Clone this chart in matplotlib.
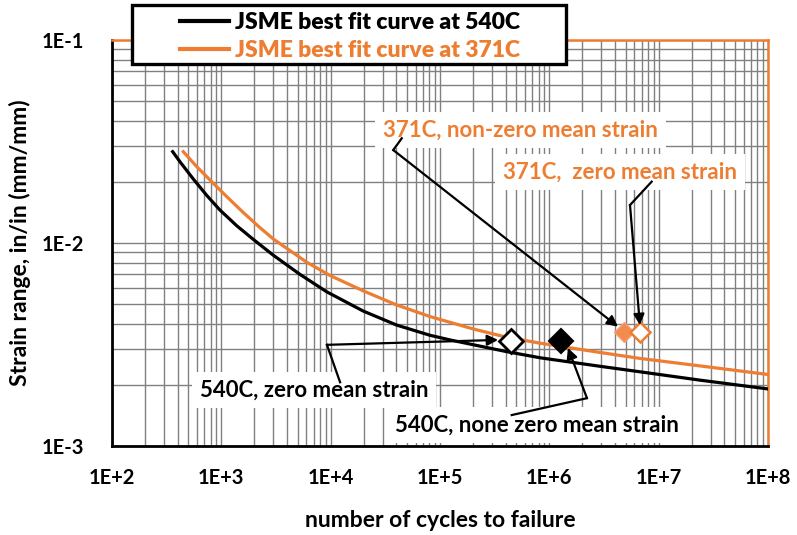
import numpy as np
import matplotlib
matplotlib.use("Agg")
import matplotlib.pyplot as plt
from matplotlib.ticker import FixedLocator, LogLocator, FuncFormatter, NullFormatter
from matplotlib.patches import Rectangle

plt.rcParams['font.family'] = ['Lato', 'DejaVu Sans']

BLACK = '#000000'
ORANGE = '#ED7D31'

# JSME best fit curves (cycles, strain range)
n_540 = [359, 419, 555, 734, 973, 1384, 1960, 2985, 5250, 9200, 19860, 40200, 81100,
         123600, 4.02e5, 822000, 2.9e6, 6.74e6, 2.39e7, 1e8]
e_540 = [0.02818, 0.02512, 0.02065, 0.01718, 0.01452, 0.01216, 0.01042, 0.00871, 0.00700,
         0.00575, 0.00462, 0.00394, 0.00351, 0.00333, 0.00292, 0.00272, 0.00247, 0.00232,
         0.00211, 0.00191]
n_371 = [449, 596, 845, 1119, 1589, 2260, 2985, 6040, 9860, 19860, 40200, 81100, 201800,
         4.02e5, 822000, 2.9e6, 6.74e6, 2.39e7, 1e8]
e_371 = [0.02818, 0.02377, 0.01968, 0.01694, 0.01413, 0.01189, 0.01047, 0.00804, 0.00692,
         0.00581, 0.00495, 0.00434, 0.00377, 0.00344, 0.00321, 0.00289, 0.00270, 0.00248,
         0.00225]

# test points
n_540_zero, e_540_zero = 4.5e5, 0.0033
n_540_nonzero, e_540_nonzero = 1.27e6, 0.0033
n_371_nonzero, e_371_nonzero = 4.8e6, 0.00366
n_371_zero, e_371_zero = 6.8e6, 0.00366

legend_labels = ['JSME best fit curve at 540C', 'JSME best fit curve at 371C']
x_ticks = [1e2, 1e3, 1e4, 1e5, 1e6, 1e7, 1e8]
y_ticks = [1e-3, 1e-2, 1e-1]

fig = plt.figure(figsize=(7.97, 5.35), dpi=100)
ax = fig.add_axes([0.1405, 0.1664, 0.8231, 0.7588])

l1, = ax.plot(n_540, e_540, color=BLACK, lw=2.3, solid_joinstyle='round', zorder=3)
l2, = ax.plot(n_371, e_371, color=ORANGE, lw=2.3, solid_joinstyle='round', zorder=3)

ax.plot(n_540_zero, e_540_zero, 'D', ms=12, mfc='white', mec=BLACK, mew=2, zorder=5)
ax.plot(n_540_nonzero, e_540_nonzero, 'D', ms=12, mfc=BLACK, mec=BLACK, mew=1.5, zorder=5)
ax.plot(n_371_nonzero, e_371_nonzero, 'D', ms=10, mfc='#F28C4E', mec='#F4A070', mew=1, zorder=5)
ax.plot(n_371_zero, e_371_zero, 'D', ms=10, mfc='white', mec=ORANGE, mew=1.8, zorder=5)

ax.set_xscale('log')
ax.set_yscale('log')
ax.set_xlim(1e2, 1e8)
ax.set_ylim(1e-3, 1e-1)

fmt = FuncFormatter(lambda v, p: "1E%+d" % int(round(np.log10(v))))
ax.xaxis.set_major_locator(FixedLocator(x_ticks))
ax.yaxis.set_major_locator(FixedLocator(y_ticks))
ax.xaxis.set_minor_locator(LogLocator(base=10, subs=np.arange(2, 10), numticks=20))
ax.yaxis.set_minor_locator(LogLocator(base=10, subs=np.arange(2, 10), numticks=20))
ax.xaxis.set_major_formatter(fmt)
ax.yaxis.set_major_formatter(fmt)
ax.xaxis.set_minor_formatter(NullFormatter())
ax.yaxis.set_minor_formatter(NullFormatter())
ax.tick_params(which='both', length=0)
ax.tick_params(axis='x', pad=16, labelsize=14.5)
ax.tick_params(axis='y', pad=20, labelsize=14.5)
for t in ax.get_xticklabels() + ax.get_yticklabels():
    t.set_fontweight('bold')

ax.grid(True, which='both', color='#808080', lw=1.0)
ax.set_axisbelow(True)

for side in ['left', 'bottom']:
    ax.spines[side].set_color(BLACK)
    ax.spines[side].set_linewidth(2)
for side in ['top', 'right']:
    ax.spines[side].set_color(ORANGE)
    ax.spines[side].set_linewidth(1.8)

ax.set_xlabel('number of cycles to failure', fontsize=16.5, fontweight='bold', labelpad=16)
ax.set_ylabel('Strain range, in/in (mm/mm)', fontsize=16.5, fontweight='bold', labelpad=8)

box = dict(boxstyle='square,pad=0.35', fc='white', ec='none')
arrow = dict(arrowstyle='-|>', color=BLACK, lw=1.6, mutation_scale=16, shrinkA=0, shrinkB=0)
fs = 16

# 371C callouts
ax.text(30100, 0.0361, '371C, non-zero mean strain', color=ORANGE, fontsize=fs,
        fontweight='bold', ha='left', va='center', bbox=box, zorder=4)
ax.plot([44700, 37400], [0.0328, 0.0287], color=BLACK, lw=1.6, zorder=6)
ax.annotate('', xy=(4.25e6, 0.00387), xytext=(37400, 0.0287), arrowprops=arrow, zorder=6)

ax.text(376700, 0.0224, '371C,  zero mean strain', color=ORANGE, fontsize=fs,
        fontweight='bold', ha='left', va='center', bbox=box, zorder=4)
ax.plot([8.63e6, 5.47e6], [0.02005, 0.01538], color=BLACK, lw=1.6, zorder=6)
ax.annotate('', xy=(6.74e6, 0.00394), xytext=(5.47e6, 0.01538), arrowprops=arrow, zorder=6)

# 540C callouts
ax.text(638, 0.00189, '540C, zero mean strain', color=BLACK, fontsize=fs,
        fontweight='bold', ha='left', va='center', bbox=box, zorder=4)
ax.plot([12200, 9250], [0.00206, 0.00315], color=BLACK, lw=1.6, zorder=6)
ax.annotate('', xy=(3.4e5, 0.00333), xytext=(9250, 0.00315), arrowprops=arrow, zorder=6)

ax.text(38700, 0.00127, '540C, none zero mean strain', color=BLACK, fontsize=fs,
        fontweight='bold', ha='left', va='center', bbox=box, zorder=4)
ax.plot([4.53e5, 2.21e6], [0.00142, 0.00172], color=BLACK, lw=1.6, zorder=6)
ax.annotate('', xy=(1.48e6, 0.00304), xytext=(2.21e6, 0.00172), arrowprops=arrow, zorder=6)

# legend box sits over the top of the plot area
frame = Rectangle((0.1656, 0.8804), 0.5445, 0.1103, transform=fig.transFigure,
                  fc='white', ec=BLACK, lw=2.4, zorder=5)
fig.patches.append(frame)
leg = fig.legend([l1, l2], legend_labels, loc='upper left', bbox_to_anchor=(0.2258, 0.978),
                 prop={'size': 16.5, 'weight': 'heavy'}, frameon=False, handlelength=2.15,
                 handletextpad=0.25, borderpad=0, labelspacing=0.33, borderaxespad=0)
leg.set_zorder(6)
for txt, c in zip(leg.get_texts(), [BLACK, ORANGE]):
    txt.set_color(c)
    txt.set_fontweight('heavy')
for h in leg.legend_handles:
    h.set_linewidth(3)

fig.savefig('out.png', dpi=100)
